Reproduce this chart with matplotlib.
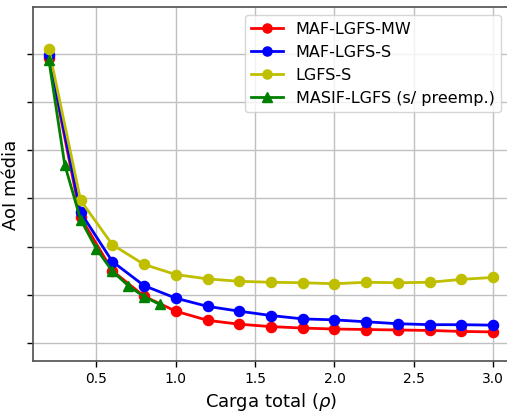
import matplotlib
matplotlib.use("Agg")
import matplotlib.pyplot as plt

rho = [0.2, 0.4, 0.6, 0.8, 1.0, 1.2, 1.4, 1.6, 1.8, 2.0, 2.2, 2.4, 2.6, 2.8, 3.0]
maf_mw = [6.91, 3.61, 2.50, 1.97, 1.66, 1.47, 1.39, 1.34, 1.31, 1.29, 1.28, 1.27, 1.26, 1.24, 1.23]
maf_s = [6.97, 3.71, 2.69, 2.19, 1.93, 1.76, 1.66, 1.57, 1.50, 1.48, 1.44, 1.40, 1.38, 1.38, 1.37]
lgfs_s = [7.10, 3.96, 3.04, 2.63, 2.42, 2.33, 2.28, 2.26, 2.25, 2.23, 2.26, 2.25, 2.26, 2.32, 2.36]
rho_masif = [0.2, 0.3, 0.4, 0.5, 0.6, 0.7, 0.8, 0.9]
masif = [6.87, 4.70, 3.56, 2.95, 2.49, 2.19, 1.96, 1.80]

labels = ["MAF-LGFS-MW", "MAF-LGFS-S", "LGFS-S", "MASIF-LGFS (s/ preemp.)"]
xticks = [0.5, 1.0, 1.5, 2.0, 2.5, 3.0]
yticks = [1, 2, 3, 4, 5, 6, 7]

fig = plt.figure(figsize=(5.07, 4.14), dpi=100)
ax = fig.add_axes([33/507, 1-362/414, (509-33)/507, (362-8)/414])

ax.plot(rho, maf_mw, '-o', color='r', lw=2, ms=7.3, label=labels[0])
ax.plot(rho, maf_s, '-o', color='b', lw=2, ms=7.3, label=labels[1])
ax.plot(rho, lgfs_s, '-o', color='y', lw=2, ms=7.3, label=labels[2])
ax.plot(rho_masif, masif, '-^', color='g', lw=2, ms=7.3, label=labels[3])

ax.set_xlim(0.1, 3.1)
ax.set_ylim(1 + (344-362)/48.2, 1 + (344-8)/48.2)
ax.set_xticks(xticks)
ax.set_yticks(yticks)
ax.set_yticklabels([])
ax.tick_params(labelsize=10, width=1, length=4)
ax.grid(True, color='#c0c0c0', lw=1)
for s in ax.spines.values():
    s.set_color('#555555')
    s.set_linewidth(1.25)
ax.set_xlabel(r'Carga total ($\rho$)', fontsize=13, labelpad=3)
ax.set_ylabel('AoI média', fontsize=13, labelpad=2)
ax.legend(loc='upper right', fontsize=11.5, markerscale=0.9)

fig.savefig('out.png', dpi=100)
